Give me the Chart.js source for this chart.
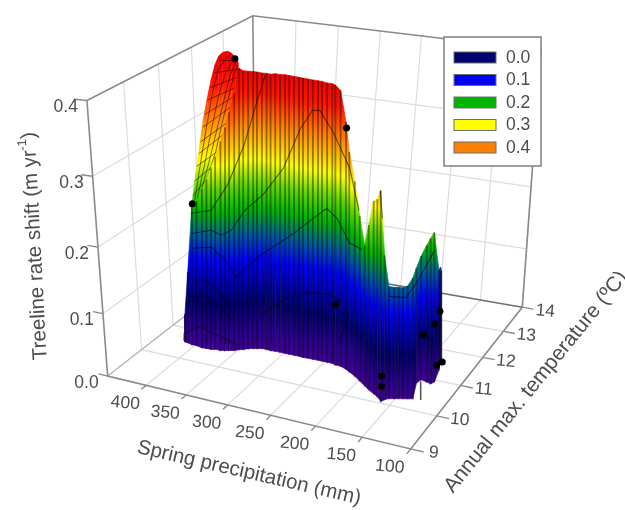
<!DOCTYPE html>
<html>
<head>
<meta charset="utf-8">
<script src="https://cdn.jsdelivr.net/npm/chart.js@4/dist/chart.umd.min.js"></script>
<style>
html, body { margin: 0; background: #fff; }
canvas { display: block; filter: blur(0.6px); }
</style>
</head>
<body>
<canvas id="surfaceChart" width="625" height="510"></canvas>
<script>
const precipTicks = [400, 350, 300, 250, 200, 150, 100];
const tempTicks = [9, 10, 11, 12, 13, 14];
const shiftTicks = [0.0, 0.1, 0.2, 0.3, 0.4];
const legendValues = ['0.0', '0.1', '0.2', '0.3', '0.4'];
const legendColors = ['#00006e', '#0000f0', '#00b400', '#ffff00', '#ff8000'];

// surface columns, each running from the floor up to its top value
const colPrecip = [418,415,411,404,398,390,384,378,374,367,362,358,353,349,345,341,336,332,327,321,316,310,304,298,293,287,281,276,270,264,258,253,247,241,236,230,222,216,207,198,189,182,174,168,161,159,156,151,147,143,139,134,143,141,134,129,127,132,136,137];
const colTempLow = [10.58,10.54,10.53,10.50,10.50,10.47,10.48,10.48,10.51,10.51,10.54,10.57,10.60,10.66,10.69,10.75,10.79,10.81,10.85,10.85,10.84,10.85,10.85,10.85,10.85,10.85,10.85,10.84,10.85,10.85,10.85,10.85,10.85,10.85,10.82,10.82,10.76,10.70,10.61,10.50,10.39,10.30,10.22,10.16,10.05,10.13,10.18,10.21,10.24,10.26,10.29,10.32,10.80,10.92,10.89,10.86,10.94,11.32,11.54,11.62];
const colTempHigh = [10.60,10.57,10.60,10.60,10.59,10.55,10.53,10.51,10.53,10.50,10.50,10.51,10.52,10.55,10.56,10.60,10.61,10.61,10.62,10.59,10.57,10.54,10.52,10.50,10.48,10.46,10.44,10.42,10.40,10.38,10.37,10.35,10.34,10.33,10.28,10.28,10.27,10.25,10.21,10.16,10.10,9.97,9.84,9.77,9.64,9.84,9.96,9.99,10.02,10.05,10.08,10.09,10.55,10.65,10.60,10.56,10.63,11.09,11.31,11.40];
const colShiftHigh = [.012,.045,.114,.217,.226,.246,.262,.281,.296,.319,.339,.360,.386,.418,.415,.414,.414,.414,.413,.414,.414,.416,.416,.417,.417,.417,.417,.417,.417,.417,.417,.417,.416,.416,.416,.410,.372,.335,.299,.256,.219,.252,.289,.294,.310,.220,.174,.173,.173,.172,.174,.186,.182,.196,.214,.226,.232,.163,.158,.150];

const capPrecip = [404,400,396,392,388,384,380,376,372,367,363,359,356];
const capTempLow = [10.50,10.53,10.55,10.58,10.61,10.63,10.66,10.69,10.71,10.74,10.77,10.79,10.81];
const capTempHigh = [10.60,10.64,10.66,10.68,10.70,10.71,10.71,10.71,10.71,10.72,10.72,10.72,10.73];
const capShiftHigh = [.217,.265,.303,.341,.371,.396,.415,.427,.432,.434,.432,.427,.420];

// colour ramp of the surface
const rampShift = [0, .03, .07, .135, .17, .21, .245, .28, .33, .38, .42];
const rampColor = ['#43009a', '#2a0090', '#00006e', '#0000ff', '#0058a0', '#00b800', '#60d800', '#ffff00', '#ff8c00', '#ff1400', '#e80000'];

const contourTemp = [10.8, 10.8, 10.8, 10.8, 10.8, 10.8, 10.8, 10.8, 12, 10.8];
const contourPrecip = [[413,389,369,351,337,329],[413,389,377,365,350,328,306,289,276,268,252,231,218],[413,389,369,359,333,292,273,255,243,227,212],[412,396,377,362],[419,396,365],[426,407,381,356],[328,296,273,246,232],[232,223],[211,191,178,161],[195,191]];
const contourShift = [[.198,.207,.250,.309,.373,.406],[.167,.177,.172,.182,.214,.243,.284,.340,.367,.368,.342,.296,.240],[.144,.151,.131,.110,.148,.192,.215,.236,.225,.192,.185],[.089,.098,.078,.050],[.065,.071,.041],[0,.017,.009,0],[.056,.094,.107,.111,.102],[.040,.089],[.070,.073,.105,.155],[.271,.234]];

const meshPrecip = [[408,400,393,386,379,368],[405,395,387,379,372,364],[400,389,380,372,367,361],[394,383,375,368,363,359],[410,396],[408,386],[405,378],[402,373],[400,370],[397,367],[395,364],[392,362],[388,360],[384,358],[379,358]];
const meshShift = [[.218,.277,.327,.375,.409,.427],[.221,.278,.328,.374,.403,.421],[.234,.286,.333,.375,.401,.418],[.250,.294,.339,.375,.402,.414],[.225,.249],[.247,.273],[.269,.298],[.288,.321],[.305,.337],[.326,.358],[.344,.372],[.364,.385],[.382,.399],[.402,.410],[.419,.421]];

const stemPrecip = [131, 130];
const stemShift = [.020, -.009];

// observed sites
const sitePrecip = [362, 237, 411, 239, 174, 168, 151, 156, 168, 133, 132];
const siteTemp = [10.8, 10.8, 10.8, 10.8, 10.5, 10.3, 12, 12, 12, 11.5, 11.2];
const siteShift = [.423, .349, .213, .097, .015, .010, .061, .039, .018, .005, .013];

const floorCorners = [[105, 378], [412, 452], [525, 308], [255, 261]];
const topCorners = [[84, 98], [423, 132], [544, 47], [252, 12]];

function squareToQuad(q) {
    const dx1 = q[1][0] - q[2][0], dx2 = q[3][0] - q[2][0], sx = q[0][0] - q[1][0] + q[2][0] - q[3][0];
    const dy1 = q[1][1] - q[2][1], dy2 = q[3][1] - q[2][1], sy = q[0][1] - q[1][1] + q[2][1] - q[3][1];
    const den = dx1 * dy2 - dx2 * dy1;
    const g = (sx * dy2 - dx2 * sy) / den, h = (dx1 * sy - sx * dy1) / den;
    return [q[1][0] - q[0][0] + g * q[1][0], q[3][0] - q[0][0] + h * q[3][0], q[0][0],
            q[1][1] - q[0][1] + g * q[1][1], q[3][1] - q[0][1] + h * q[3][1], q[0][1], g, h];
}
const floorH = squareToQuad(floorCorners), topH = squareToQuad(topCorners);

function onPlane(H, s, r) {
    const w = H[6] * s + H[7] * r + 1;
    return [(H[0] * s + H[1] * r + H[2]) / w, (H[3] * s + H[4] * r + H[5]) / w];
}

// precipitation, temperature, shift -> page position used by the x/y scales
function project(p, t, z) {
    const s = (450 - p) / 350, r = (t - 9) / 5, w = z / 0.4;
    const f = w / (1 + 0.137 * (1 - w));
    const a = onPlane(floorH, s, r), b = onPlane(topH, s, r);
    return { x: a[0] + (b[0] - a[0]) * f, y: a[1] + (b[1] - a[1]) * f };
}

const canvas = document.getElementById('surfaceChart');
const context = canvas.getContext('2d');

const datasets = [];
function addLine(points, color, width) {
    datasets.push({ data: points, showLine: true, pointRadius: 0, borderColor: color, borderWidth: width, order: -datasets.length, borderCapStyle: 'butt' });
}

function rampFor(p, tLow, tHigh, zHigh) {
    const a = project(p, tLow, 0), b = project(p, tHigh, zHigh);
    const zMax = rampShift[rampShift.length - 1];
    const g = context.createLinearGradient(a.x, a.y, a.x + (b.x - a.x) * zMax / zHigh, a.y + (b.y - a.y) * zMax / zHigh);
    rampShift.forEach((z, i) => g.addColorStop(z / zMax, rampColor[i]));
    return g;
}

// one filled strip of surface between two neighbouring columns
function addStrips(precip, tempLow, tempHigh, shiftHigh) {
    precip.slice(0, -1).forEach((p, i) => {
        const k = i + 1;
        const ramp = rampFor(p, tempLow[i], tempHigh[i], shiftHigh[i]);
        datasets.push({
            data: [project(p, tempLow[i], 0), project(precip[k], tempLow[k], 0), project(precip[k], tempHigh[k], shiftHigh[k]), project(p, tempHigh[i], shiftHigh[i])],
            showLine: true,
            fill: 'shape',
            backgroundColor: ramp,
            borderColor: ramp,
            borderWidth: 0.7,
            pointRadius: 0,
            order: -datasets.length
        });
    });
}

const gridColor = '#dcdcdc', axisColor = '#8a8a8a';
// floor and wall grid
precipTicks.forEach(p => {
    addLine([project(p, 9, 0), project(p, 14, 0), project(p, 14, 0.4)], gridColor, 1.2);
});
tempTicks.slice(1, -1).forEach(t => {
    addLine([project(100, t, 0), project(450, t, 0), project(450, t, 0.4)], gridColor, 1.2);
});
shiftTicks.slice(1, -1).forEach(z => {
    addLine([project(450, 9, z), project(450, 14, z), project(100, 14, z)], gridColor, 1.2);
});
// box edges and tick marks
addLine([project(450, 9, 0), project(450, 14, 0)], '#b5b5b5', 1.4);
addLine([project(450, 9, 0.4), project(450, 14, 0.4), project(100, 14, 0.4), project(100, 14, 0)], axisColor, 1.6);
addLine([project(450, 14, 0.4), project(450, 14, 0)], axisColor, 1.6);
addLine([project(450, 14, 0), project(100, 14, 0)], '#707070', 1.6);
addLine([project(450, 9, 0.4), project(450, 9, 0), project(100, 9, 0), project(100, 14, 0)], axisColor, 1.6);
precipTicks.forEach(p => addLine([project(p, 9, 0), project(p, 8.86, 0)], axisColor, 1.4));
tempTicks.forEach(t => addLine([project(100, t, 0), project(87, t, 0)], axisColor, 1.4));
shiftTicks.forEach(z => addLine([project(450, 9, z), project(462, 9, z)], axisColor, 1.4));

// the curled part at the high end, then its mesh
addStrips(capPrecip, capTempLow, capTempHigh, capShiftHigh);
meshPrecip.forEach((list, i) => {
    addLine(list.map((p, k) => project(p, 10.8, meshShift[i][k])), 'rgba(40,0,0,0.55)', 1);
});
addLine(stemPrecip.map((p, k) => project(p, 10.5, stemShift[k])), '#555', 1.5);
addStrips(colPrecip, colTempLow, colTempHigh, colShiftHigh);
colPrecip.forEach((p, i) => {
    addLine([project(p, colTempLow[i], 0), project(p, colTempHigh[i], colShiftHigh[i])], 'rgba(0,0,0,0.42)', 1.8);
});
contourPrecip.forEach((list, i) => {
    addLine(list.map((p, k) => project(p, contourTemp[i], contourShift[i][k])), 'rgba(0,0,0,0.55)', 1.1);
});
datasets.push({
    data: sitePrecip.map((p, i) => project(p, siteTemp[i], siteShift[i])),
    pointRadius: 3.5,
    pointBackgroundColor: '#000',
    pointBorderWidth: 0,
    order: -datasets.length
});

const textPlugin = {
    id: 'axisText',
    afterDraw(chart) {
        const { ctx, scales } = chart;
        const at = (p, t, z) => {
            const q = project(p, t, z);
            return [scales.x.getPixelForValue(q.x), scales.y.getPixelForValue(q.y)];
        };
        function text(str, x, y, angle, size, align) {
            ctx.save();
            ctx.translate(x, y);
            ctx.rotate(angle * Math.PI / 180);
            ctx.font = size + 'px "Liberation Sans"';
            ctx.fillStyle = '#4d4d4d';
            ctx.textAlign = align || 'center';
            ctx.textBaseline = 'middle';
            ctx.fillText(str, 0, 0);
            ctx.restore();
        }
        shiftTicks.forEach(z => {
            const q = at(450, 9, z);
            text(z.toFixed(1), q[0] - 9, q[1] + 7, 0, 17.5, 'right');
        });
        precipTicks.forEach(p => {
            const q = at(p, 9, 0);
            text(String(p), q[0] - 21, q[1] + 18, 5, 17.5);
        });
        tempTicks.forEach(t => {
            const q = at(100, t, 0);
            text(String(t), q[0] + 23, q[1] + 4, 5, 17.5);
        });
        text('Spring precipitation (mm)', 249, 473, 13, 20.5);
        text('Annual max. temperature (\u00baC)', 536, 382, -51, 21);
        // y title, with the superscript
        ctx.save();
        ctx.translate(41, 360);
        ctx.rotate(-93 * Math.PI / 180);
        ctx.font = '20.5px "Liberation Sans"';
        ctx.fillStyle = '#4d4d4d';
        ctx.textBaseline = 'middle';
        const base = 'Treeline rate shift (m yr';
        ctx.fillText(base, 0, 0);
        let w = ctx.measureText(base).width;
        ctx.font = '13px "Liberation Sans"';
        ctx.fillText('-1', w, -7);
        w += ctx.measureText('-1').width;
        ctx.font = '20.5px "Liberation Sans"';
        ctx.fillText(')', w, 0);
        ctx.restore();
        // legend box
        ctx.fillStyle = '#fff';
        ctx.strokeStyle = '#808080';
        ctx.lineWidth = 1.5;
        ctx.fillRect(444, 37, 97, 129);
        ctx.strokeRect(444, 37, 97, 129);
        legendValues.forEach((v, i) => {
            const y = 52 + i * 22.5;
            ctx.fillStyle = legendColors[i];
            ctx.strokeStyle = '#6e6e6e';
            ctx.lineWidth = 1;
            ctx.fillRect(454, y, 42, 11);
            ctx.strokeRect(454, y, 42, 11);
            text(v, 506, y + 6, 0, 17.5, 'left');
        });
    }
};

new Chart(canvas, {
    type: 'scatter',
    data: { datasets: datasets },
    options: {
        responsive: false,
        animation: false,
        layout: { padding: 0 },
        plugins: { legend: { display: false }, tooltip: { enabled: false } },
        scales: {
            x: { type: 'linear', min: 0, max: 625, display: false },
            y: { type: 'linear', min: 0, max: 510, reverse: true, display: false }
        }
    },
    plugins: [textPlugin]
});
</script>
</body>
</html>
